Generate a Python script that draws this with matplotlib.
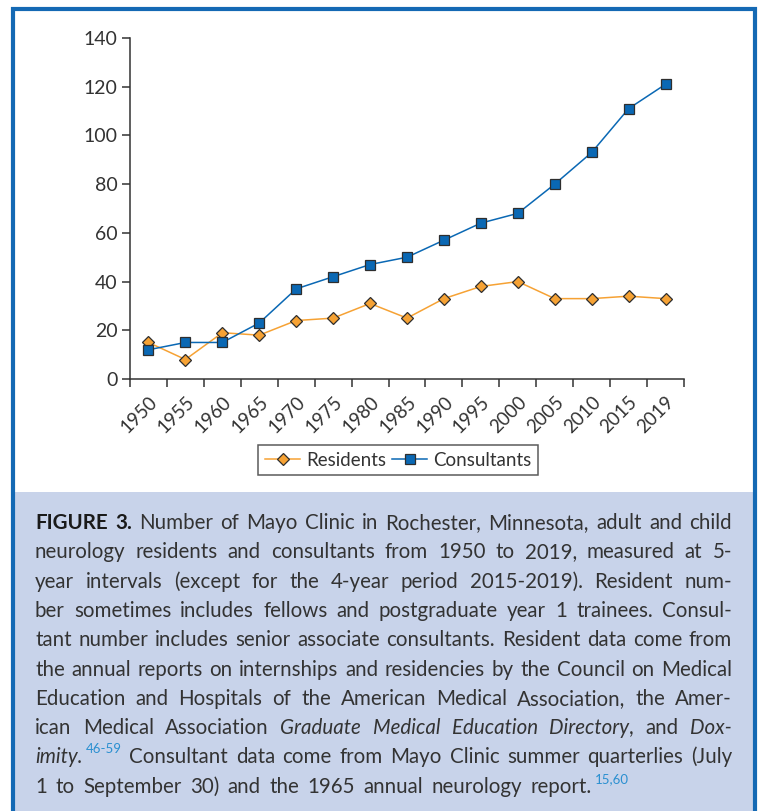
import matplotlib
matplotlib.use('Agg')
import matplotlib.pyplot as plt
import matplotlib.patches as patches
import numpy as np

# ---- data ----
years       = ['1950', '1955', '1960', '1965', '1970', '1975', '1980', '1985',
               '1990', '1995', '2000', '2005', '2010', '2015', '2019']
residents   = [15, 8, 19, 18, 24, 25, 31, 25, 33, 38, 40, 33, 33, 34, 33]
consultants = [12, 15, 15, 23, 37, 42, 47, 50, 57, 64, 68, 80, 93, 111, 121]
y_ticks     = [0, 20, 40, 60, 80, 100, 120, 140]

# caption: each line is a list of words, each word a list of (text, style) runs
R, B, I, S = 'r', 'b', 'i', 's'
caption_lines = [
    [[('FIGURE', B)], [('3.', B)], [('Number', R)], [('of', R)], [('Mayo', R)], [('Clinic', R)],
     [('in', R)], [('Rochester,', R)], [('Minnesota,', R)], [('adult', R)], [('and', R)], [('child', R)]],
    [[(w, R)] for w in 'neurology residents and consultants from 1950 to 2019, measured at 5-'.split()],
    [[(w, R)] for w in 'year intervals (except for the 4-year period 2015-2019). Resident num-'.split()],
    [[(w, R)] for w in 'ber sometimes includes fellows and postgraduate year 1 trainees. Consul-'.split()],
    [[(w, R)] for w in 'tant number includes senior associate consultants. Resident data come from'.split()],
    [[(w, R)] for w in 'the annual reports on internships and residencies by the Council on Medical'.split()],
    [[(w, R)] for w in 'Education and Hospitals of the American Medical Association, the Amer-'.split()],
    [[('ican', R)], [('Medical', R)], [('Association', R)], [('Graduate', I)], [('Medical', I)],
     [('Education', I)], [('Directory', I), (',', R)], [('and', R)], [('Dox-', I)]],
    [[('imity.', I), ('46-59', S)]] + [[(w, R)] for w in
     'Consultant data come from Mayo Clinic summer quarterlies (July'.split()],
    [[('1', R)], [('to', R)], [('September', R)], [('30)', R)], [('and', R)], [('the', R)],
     [('1965', R)], [('annual', R)], [('neurology', R)], [('report.', R), ('15,60', S)]],
]

W, H = 760, 811
FONT = 'Lato'
TXT = '#333333'
BLUE_FRAME = '#1469b4'
CAP_BG = '#c8d3ea'
C_BLUE = '#0a68b4'
C_ORANGE = '#f6a234'

plt.rcParams['font.family'] = [FONT, 'DejaVu Sans']

fig = plt.figure(figsize=(W / 100, H / 100), dpi=100)


def fx(px):
    return px / W


def fy(py):
    return 1 - py / H


# ---- frame and caption background ----
fig.patches.append(patches.Rectangle((fx(13), fy(811)), fx(742), fy(492) - fy(811),
                                     transform=fig.transFigure, facecolor=CAP_BG,
                                     edgecolor='none', zorder=0))
fig.patches.append(patches.Rectangle((fx(13), fy(830)), fx(742), fy(9) - fy(830),
                                     transform=fig.transFigure, facecolor='none',
                                     edgecolor=BLUE_FRAME, linewidth=3, zorder=1))

# ---- chart ----
ax = fig.add_axes([fx(130), fy(379), fx(684) - fx(130), fy(38) - fy(379)])
x = np.arange(len(years)) + 0.5

ax.plot(x, residents, color=C_ORANGE, lw=1.1, marker='D', ms=6.5,
        markerfacecolor=C_ORANGE, markeredgecolor='#2e2e2e', markeredgewidth=0.9,
        label='Residents', zorder=3)
ax.plot(x, consultants, color=C_BLUE, lw=1.1, marker='s', ms=7.5,
        markerfacecolor=C_BLUE, markeredgecolor='#2e2e2e', markeredgewidth=0.9,
        label='Consultants', zorder=4)

ax.set_xlim(0, len(years))
ax.set_ylim(0, 140)
ax.set_yticks(y_ticks)
ax.set_xticks(np.arange(len(years) + 1))
ax.set_xticklabels([])
ax.set_xticks(x, minor=True)
ax.set_xticklabels(years, minor=True, rotation=45, ha='right', va='top',
                   rotation_mode='anchor')
ax.tick_params(axis='x', which='minor', length=0, pad=10, labelsize=13.5, labelcolor=TXT)
ax.tick_params(axis='x', which='major', length=6, width=1.1, color='#333333', direction='out')
ax.tick_params(axis='y', length=6, width=1.1, color='#333333', labelsize=14, labelcolor=TXT,
               pad=3)
for s in ['top', 'right']:
    ax.spines[s].set_visible(False)
for s in ['left', 'bottom']:
    ax.spines[s].set_color('#333333')
    ax.spines[s].set_linewidth(1.1)

leg = fig.legend(loc='center', bbox_to_anchor=(fx(398), fy(460)), ncol=2,
                 frameon=True, fancybox=False, fontsize=13.5, handlelength=1.9,
                 handletextpad=0.3, columnspacing=0.3, borderpad=0.35,
                 edgecolor='#333333')
leg.get_frame().set_linewidth(1.1)
for t in leg.get_texts():
    t.set_color(TXT)

# ---- caption, justified word by word ----
CS = 14.8
styles = {
    R: dict(fontsize=CS, color=TXT),
    B: dict(fontsize=CS, color='#1a1a1a', fontweight='bold'),
    I: dict(fontsize=CS, color=TXT, fontstyle='italic'),
    S: dict(fontsize=9.5, color='#2a8fd0'),
}
renderer = fig.canvas.get_renderer()
left, right = 35, 732
base0, step = 529, 29.3

for li, line in enumerate(caption_lines):
    base = base0 + li * step
    words = []
    for word in line:
        runs = []
        for txt, st in word:
            dy = -10 if st == S else 0
            t = fig.text(0, 0, txt, va='baseline', ha='left', **styles[st])
            w = t.get_window_extent(renderer).width
            if st == S:
                w += 0
            runs.append((t, w, dy, 3 if st == S else 0))
        words.append(runs)
    widths = [sum(r[1] + r[3] for r in runs) for runs in words]
    if li == len(caption_lines) - 1:
        gap = 8.5
    else:
        gap = (right - left - sum(widths)) / (len(words) - 1)
    cur = left
    for runs, wsum in zip(words, widths):
        cx = cur
        for t, w, dy, pre in runs:
            cx += pre
            t.set_position((fx(cx), fy(base + dy)))
            cx += w
        cur += wsum + gap

fig.savefig('out.png', dpi=100)
